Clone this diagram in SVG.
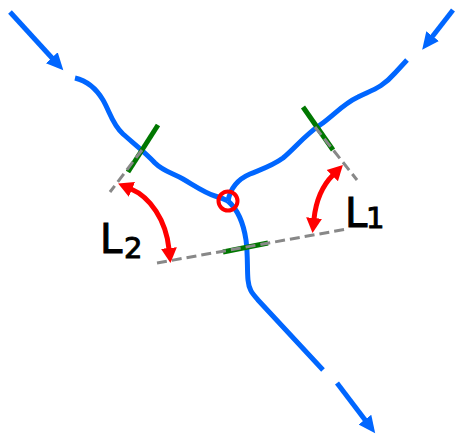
<svg xmlns="http://www.w3.org/2000/svg" width="461" height="437" viewBox="0 0 461 437">
<style>
.flow{fill:none;stroke:#0066FF;stroke-width:5;stroke-linecap:butt;stroke-linejoin:round}
.tick{fill:none;stroke:#007700;stroke-width:5;stroke-linecap:butt}
.dash{fill:none;stroke:#888888;stroke-width:3;stroke-dasharray:10,5}
.angle{fill:none;stroke:#FF0000;stroke-width:5}
.lbl{font-family:"Comic Sans MS","DejaVu Sans",sans-serif;fill:#000000;stroke:#000000;stroke-width:1}
</style>
<defs>
<marker id="blueHead" markerUnits="userSpaceOnUse" markerWidth="20" markerHeight="20" viewBox="0 -10 20 20" refX="1" refY="0" orient="auto">
<path d="M0,-8 L17,0 L0,8 z" fill="#0066FF"/>
</marker>
<marker id="redHead" markerUnits="userSpaceOnUse" markerWidth="20" markerHeight="20" viewBox="0 -10 20 20" refX="1" refY="0" orient="auto-start-reverse">
<path d="M0,-8 L15,0 L0,8 z" fill="#FF0000"/>
</marker>
</defs>
<g id="connectors">
<line class="flow" x1="10" y1="12" x2="52.5" y2="58.5" marker-end="url(#blueHead)"/>
<line class="flow" x1="453" y1="10" x2="432" y2="37" marker-end="url(#blueHead)"/>
<path class="flow" d="M75,78 C88,81 97,90 103,100 C110,112 112,124 123,134 C133,143 145,152 155,163 C163,171 172,173 183,179 C195,186 205,193 215,196 C222,198 226,200 228,201"/>
<path class="flow" d="M228,201 C230,190 236,180 250,174 C262,169 272,166 283,158 C295,148 305,135 320,125 C333,116 343,104 358,97 C372,90 382,88 395,73 L407,60"/>
<path class="flow" d="M228,201 C236,208 243,220 246,240 C248,255 247,270 248,280 C249,290 252,293 258,300 L323,370"/>
<line class="flow" x1="337" y1="383" x2="365.5" y2="420.5" marker-end="url(#blueHead)"/>
</g>
<g id="ticks">
<line class="tick" x1="158" y1="125" x2="128" y2="172"/>
<line class="tick" x1="223" y1="252" x2="268" y2="243"/>
<line class="tick" x1="303" y1="107" x2="333" y2="150"/>
</g>
<g id="guides">
<line class="dash" x1="142" y1="150" x2="110" y2="192"/>
<line class="dash" x1="157" y1="263" x2="347" y2="229"/>
<line class="dash" x1="315" y1="127" x2="357" y2="180"/>
</g>
<g id="junction">
<circle cx="228" cy="201" r="9.5" fill="none" stroke="#FF0000" stroke-width="4"/>
</g>
<g id="angle2">
<path class="angle" d="M131,189 C150,197 166,220 169,249" marker-start="url(#redHead)" marker-end="url(#redHead)"/>
<text class="lbl" x="100" y="253" font-size="40">L<tspan x="124" y="258" font-size="29">2</tspan></text>
</g>
<g id="angle1">
<path class="angle" d="M333,175 C323,185 316,200 314,219" marker-start="url(#redHead)" marker-end="url(#redHead)"/>
<text class="lbl" x="345" y="227" font-size="40">L<tspan x="366" y="228" font-size="29">1</tspan></text>
</g>
</svg>
